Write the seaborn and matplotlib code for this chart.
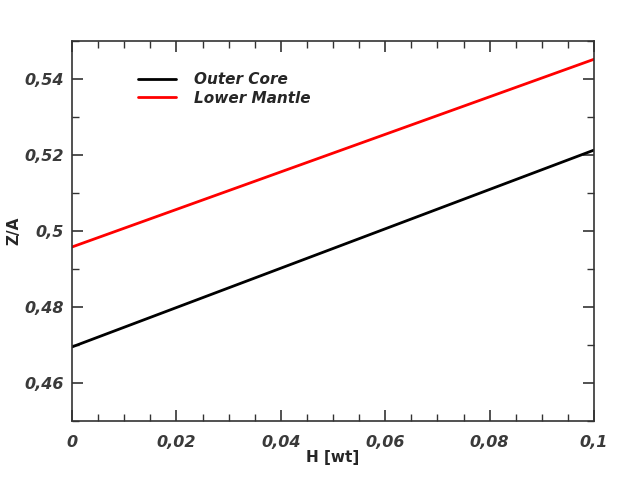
import matplotlib
matplotlib.use("Agg")
import matplotlib.pyplot as plt
import matplotlib.ticker as mticker
import pandas as pd
import seaborn as sns

# data
h_wt = [0.0, 0.1]
outer_core = [0.4695, 0.5213]
lower_mantle = [0.4958, 0.5452]

df = pd.DataFrame({
    "H": h_wt * 2,
    "ZA": outer_core + lower_mantle,
    "Layer": ["Outer Core"] * 2 + ["Lower Mantle"] * 2,
})

sns.set_theme(style="ticks")
plt.rcParams["font.family"] = ["DejaVu Sans"]

fig = plt.figure(figsize=(6.23, 4.78), dpi=100)
ax = fig.add_axes([0.1156, 0.1192, 0.8379, 0.795])
sns.lineplot(data=df, x="H", y="ZA", hue="Layer",
             palette={"Outer Core": "black", "Lower Mantle": "red"},
             linewidth=2, ax=ax)

ax.set_xlim(0, 0.1)
ax.set_ylim(0.45, 0.55)
ax.xaxis.set_major_locator(mticker.MultipleLocator(0.02))
ax.xaxis.set_minor_locator(mticker.MultipleLocator(0.005))
ax.yaxis.set_major_locator(mticker.MultipleLocator(0.02))
ax.yaxis.set_minor_locator(mticker.MultipleLocator(0.01))

def comma(v, pos):
    s = f"{v:.2f}".rstrip("0").rstrip(".")
    return s.replace(".", ",")

ax.xaxis.set_major_formatter(mticker.FuncFormatter(comma))
ax.yaxis.set_major_formatter(mticker.FuncFormatter(comma))

ax.tick_params(which="both", direction="in", top=True, right=True,
               colors="#333333", labelcolor="#3a3a3a")
ax.tick_params(which="major", length=8, width=1.2)
ax.tick_params(which="minor", length=5, width=1.0)
ax.tick_params(axis="x", which="major", pad=10)
ax.tick_params(axis="y", which="major", pad=6)
for lab in ax.get_xticklabels() + ax.get_yticklabels():
    lab.set_fontweight("bold")
    lab.set_fontstyle("italic")
    lab.set_fontsize(11.5)
for sp in ax.spines.values():
    sp.set_color("#333333")
    sp.set_linewidth(1.2)

ax.set_xlabel("H [wt]", fontweight="bold", fontsize=11, labelpad=0)
ax.set_ylabel("Z/A", fontweight="bold", fontsize=11)
ax.yaxis.set_label_coords(-0.097, 0.5)

leg = ax.legend(loc="upper left", bbox_to_anchor=(0.1, 0.955), frameon=False,
                handlelength=2.5, handletextpad=1.2, fontsize=11,
                labelspacing=0.25)
for t in leg.get_texts():
    t.set_fontweight("bold")
    t.set_fontstyle("italic")

fig.savefig("out.png", dpi=100)
